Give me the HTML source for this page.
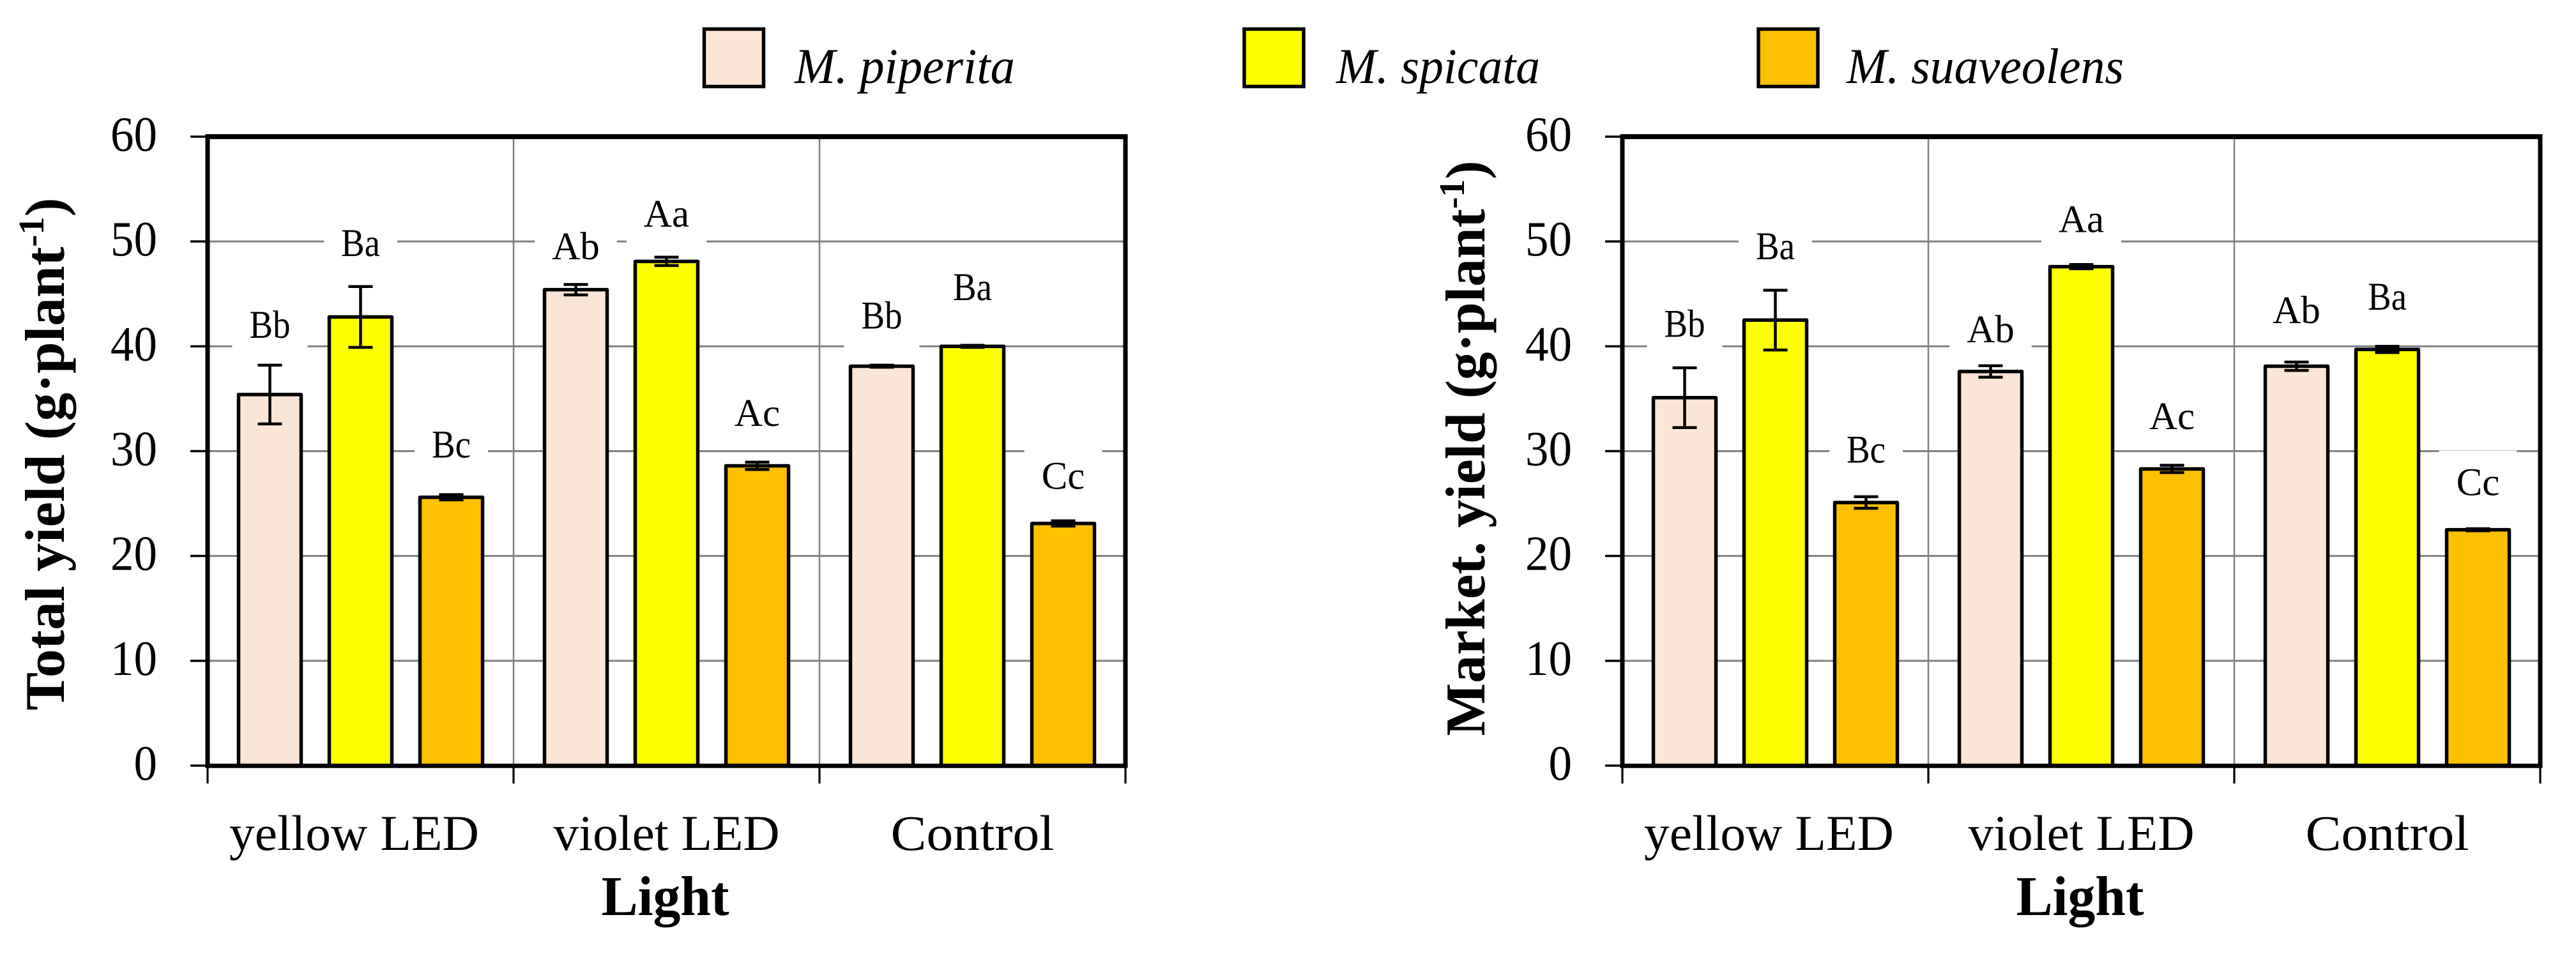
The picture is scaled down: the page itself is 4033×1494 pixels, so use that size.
<!DOCTYPE html>
<html lang="en">
<head>
<meta charset="utf-8">
<title>Total and marketable yield by light treatment</title>
<style>
html,body{margin:0;padding:0;background:#fff;}
svg{display:block;}
text{font-family:"Liberation Serif",serif;fill:#000;}
</style>
</head>
<body>
<svg id="figure" xmlns="http://www.w3.org/2000/svg" width="4033" height="1494" viewBox="0 0 4033 1494">
<rect x="0" y="0" width="4033" height="1494" fill="#ffffff"></rect>
</svg>
<script>
const categories = ['yellow LED', 'violet LED', 'Control'];
const speciesNames = ['M. piperita', 'M. spicata', 'M. suaveolens'];
const speciesColors = ['#FBE5D6', '#FFFF00', '#FFC000'];
const yTickLabels = [0, 10, 20, 30, 40, 50, 60];

const totalPiperita = [35.4, 45.4, 38.1];
const totalSpicata = [42.8, 48.1, 40.0];
const totalSuaveolens = [25.6, 28.6, 23.1];
const totalPiperitaErr = [2.8, 0.5, 0.1];
const totalSpicataErr = [2.9, 0.4, 0.1];
const totalSuaveolensErr = [0.25, 0.35, 0.25];
const totalPiperitaLetters = ['Bb', 'Ab', 'Bb'];
const totalSpicataLetters = ['Ba', 'Aa', 'Ba'];
const totalSuaveolensLetters = ['Bc', 'Ac', 'Cc'];
const totalPiperitaLetterLevel = [40.8, 48.3, 41.7];
const totalSpicataLetterLevel = [48.6, 51.4, 44.4];
const totalSuaveolensLetterLevel = [29.4, 32.4, 26.4];

const marketPiperita = [35.1, 37.6, 38.1];
const marketSpicata = [42.5, 47.6, 39.7];
const marketSuaveolens = [25.1, 28.3, 22.5];
const marketPiperitaErr = [2.85, 0.55, 0.4];
const marketSpicataErr = [2.85, 0.2, 0.3];
const marketSuaveolensErr = [0.55, 0.35, 0.1];
const marketPiperitaLetters = ['Bb', 'Ab', 'Ab'];
const marketSpicataLetters = ['Ba', 'Aa', 'Ba'];
const marketSuaveolensLetters = ['Bc', 'Ac', 'Cc'];
const marketPiperitaLetterLevel = [40.9, 40.4, 42.2];
const marketSpicataLetterLevel = [48.3, 50.9, 43.5];
const marketSuaveolensLetterLevel = [28.9, 32.1, 25.8];

const NS = 'http://www.w3.org/2000/svg';
const root = document.getElementById('figure');
const PLOT_W = 1437, TOP = 214, BOTTOM = 1199, Y_MAX = 60;
const GROUP_W = PLOT_W / categories.length;
const BAR_STEP = 142, BAR_W = 98;

function yScale(v) { return BOTTOM - (v / Y_MAX) * (BOTTOM - TOP); }
function groupCenter(left, g) { return left + GROUP_W * (g + 0.5); }
function barCenter(left, g, s) { return groupCenter(left, g) + (s - 1) * BAR_STEP; }

function make(tag, attrs, parent) {
  const n = document.createElementNS(NS, tag);
  for (const k in attrs) n.setAttribute(k, attrs[k]);
  (parent || root).appendChild(n);
  return n;
}

function slug(s) { return s.toLowerCase().replace(/[^a-z0-9]+/g, '-').replace(/^-|-$/g, ''); }

function drawChart(prefix, left, titleMain, titleBaseline, titleCenter, titleLen, values, errors, letters, levels) {
  const chart = make('g', {});
  
  

  yTickLabels.forEach(function (t) {
    if (t === 0 || t === Y_MAX) return;
    const grid = make('line', {x1: left, x2: left + PLOT_W, y1: yScale(t), y2: yScale(t), stroke: '#808080', 'stroke-width': 3}, chart);
    
    
  });
  for (let g = 1; g < categories.length; g++) {
    const vg = make('line', {x1: left + GROUP_W * g, x2: left + GROUP_W * g, y1: TOP, y2: BOTTOM, stroke: '#808080', 'stroke-width': 2.5}, chart);
    
    
  }

  const pending = [];
  categories.forEach(function (cat, g) {
    speciesNames.forEach(function (sp, s) {
      const cx = barCenter(left, g, s);
      const label = letters[s][g];
      const baseY = yScale(levels[s][g]);
      const box = make('rect', {x: cx, y: baseY - 70, width: 0, height: 100, fill: '#ffffff'}, chart);
      
      
      pending.push({box: box, cx: cx, label: label, baseY: baseY, sp: sp, cat: cat});
    });
  });

  categories.forEach(function (cat, g) {
    speciesNames.forEach(function (sp, s) {
      const cx = barCenter(left, g, s);
      const v = values[s][g];
      const e = errors[s][g];
      const bar = make('rect', {x: cx - BAR_W / 2, y: yScale(v), width: BAR_W, height: BOTTOM - yScale(v), fill: speciesColors[s], stroke: '#000', 'stroke-width': 5.5, 'stroke-linejoin': 'round'}, chart);
      
      
      const stem = make('line', {x1: cx, x2: cx, y1: yScale(v + e), y2: yScale(v - e), stroke: '#000', 'stroke-width': 4.5}, chart);
      
      
      [v + e, v - e].forEach(function (ev) {
        const cap = make('line', {x1: cx - 19, x2: cx + 19, y1: yScale(ev), y2: yScale(ev), stroke: '#000', 'stroke-width': 4.5}, chart);
        
        
      });
    });
  });

  pending.forEach(function (p) {
    const t = make('text', {x: p.cx, y: p.baseY, 'text-anchor': 'middle', 'font-size': 61}, chart);
    t.textContent = p.label;
    
    
    const natural = t.getComputedTextLength();
    const w = natural * (p.label[0] === 'B' ? 0.9 : 1);
    t.setAttribute('textLength', w);
    t.setAttribute('lengthAdjust', 'spacingAndGlyphs');
    p.box.setAttribute('x', p.cx - (w + 54) / 2);
    p.box.setAttribute('width', w + 54);
  });

  const frameTop = make('line', {x1: left - 3.5, x2: left + PLOT_W + 3.5, y1: TOP, y2: TOP, stroke: '#000', 'stroke-width': 7.7}, chart);
  
  
  const frameBottom = make('line', {x1: left - 3.5, x2: left + PLOT_W + 3.5, y1: BOTTOM + 0.3, y2: BOTTOM + 0.3, stroke: '#000', 'stroke-width': 6.8}, chart);
  
  
  const frameLeft = make('line', {x1: left, x2: left, y1: TOP, y2: BOTTOM, stroke: '#000', 'stroke-width': 7}, chart);
  
  
  const frameRight = make('line', {x1: left + PLOT_W, x2: left + PLOT_W, y1: TOP, y2: BOTTOM, stroke: '#000', 'stroke-width': 7}, chart);
  
  

  yTickLabels.forEach(function (t) {
    const tick = make('line', {x1: left - 27, x2: left, y1: yScale(t), y2: yScale(t), stroke: '#000', 'stroke-width': 3.5}, chart);
    
    
    const lab = make('text', {x: left - 79, y: yScale(t) + 22, 'text-anchor': 'end', 'font-size': 77}, chart);
    lab.textContent = String(t);
    lab.setAttribute('textLength', String(t).length * 36.5);
    lab.setAttribute('lengthAdjust', 'spacingAndGlyphs');
    
    
  });

  for (let g = 0; g <= categories.length; g++) {
    const xt = make('line', {x1: left + GROUP_W * g, x2: left + GROUP_W * g, y1: BOTTOM, y2: BOTTOM + 28, stroke: '#000', 'stroke-width': 3.2}, chart);
    
    
  }

  categories.forEach(function (cat, g) {
    const cl = make('text', {x: groupCenter(left, g) - (cat === 'yellow LED' ? 10 : 0), y: 1331, 'text-anchor': 'middle', 'font-size': 78}, chart);
    cl.textContent = cat;
    cl.setAttribute('textLength', cat === 'yellow LED' ? 391 : cat === 'violet LED' ? 354 : 256);
    cl.setAttribute('lengthAdjust', 'spacingAndGlyphs');
    
    
  });

  const xTitle = make('text', {x: left + PLOT_W / 2 - 2, y: 1433, 'text-anchor': 'middle', 'font-size': 88, 'font-weight': 'bold', textLength: 200, lengthAdjust: 'spacingAndGlyphs'}, chart);
  xTitle.textContent = 'Light';
  
  

  const yTitle = make('text', {transform: 'translate(' + titleBaseline + ' ' + titleCenter + ') rotate(-90)', x: 0, y: 0, 'text-anchor': 'middle', 'font-size': 88, 'font-weight': 'bold', textLength: titleLen, lengthAdjust: 'spacingAndGlyphs'}, chart);
  
  
  yTitle.appendChild(document.createTextNode(titleMain));
  const sup = make('tspan', {'font-size': 56, dy: -32}, yTitle);
  sup.textContent = '-1';
  const close = make('tspan', {dy: 32}, yTitle);
  close.textContent = ')';
}

const legendGroup = make('g', {});


[[1149, 1244, 345], [1994.5, 2092, 319], [2799.5, 2891, 434]].forEach(function (pos, i) {
  const sw = make('rect', {x: pos[0] - 46.5, y: 45.5, width: 93, height: 90, fill: speciesColors[i], stroke: '#000', 'stroke-width': 5.5}, legendGroup);
  
  
  const lt = make('text', {x: pos[1], y: 130, 'font-size': 78, 'font-style': 'italic', textLength: pos[2], lengthAdjust: 'spacingAndGlyphs'}, legendGroup);
  lt.textContent = speciesNames[i];
  
  
});

drawChart('total-yield', 325, 'Total yield (g\u00b7plant', 100, 711, 803,
  [totalPiperita, totalSpicata, totalSuaveolens],
  [totalPiperitaErr, totalSpicataErr, totalSuaveolensErr],
  [totalPiperitaLetters, totalSpicataLetters, totalSuaveolensLetters],
  [totalPiperitaLetterLevel, totalSpicataLetterLevel, totalSuaveolensLetterLevel]);

drawChart('market-yield', 2540, 'Market. yield (g\u00b7plant', 2324, 702, 901,
  [marketPiperita, marketSpicata, marketSuaveolens],
  [marketPiperitaErr, marketSpicataErr, marketSuaveolensErr],
  [marketPiperitaLetters, marketSpicataLetters, marketSuaveolensLetters],
  [marketPiperitaLetterLevel, marketSpicataLetterLevel, marketSuaveolensLetterLevel]);
</script>
</body>
</html>
